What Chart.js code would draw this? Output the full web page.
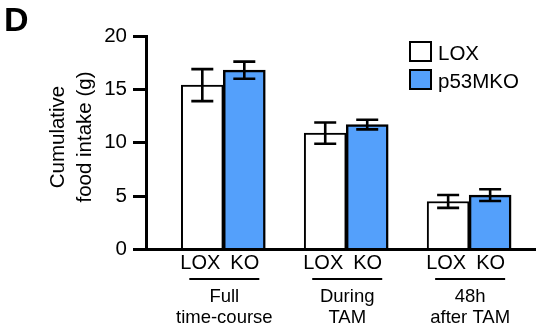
<!DOCTYPE html>
<html><head><meta charset="utf-8">
<script src="https://cdn.jsdelivr.net/npm/chart.js@4.4.1/dist/chart.umd.min.js"></script>
<style>html,body{margin:0;padding:0;background:#fff}#wrap{width:536px;height:332px}</style>
</head><body><div id="wrap"><canvas id="c" width="536" height="332"></canvas></div>
<script>
// ---- data ----
const groups = [['Full', 'time-course'], ['During', 'TAM'], ['48h', 'after TAM']];
const subLabels = ['LOX', 'KO'];
const seriesNames = ['LOX', 'p53MKO'];
const loxMean = [15.4, 10.9, 4.5];
const loxErr = [1.5, 1.0, 0.6];
const koMean = [16.8, 11.7, 5.1];
const koErr = [0.8, 0.45, 0.55];
const yTicks = [0, 5, 10, 15, 20];
const yTitle = ['Cumulative', 'food intake (g)'];
const panelLetter = 'D';

const FONT = '"Liberation Sans", Arial, Helvetica, sans-serif';
const BLUE = 'rgb(84,160,251)';

const toPts = (arr) => arr.map((v, i) => ({ x: i, y: v }));

const errorBars = {
  id: 'errorBars',
  afterDatasetsDraw(chart) {
    const ctx = chart.ctx, ys = chart.scales.y;
    ctx.save();
    ctx.strokeStyle = '#000';
    ctx.lineWidth = 2.6;
    chart.data.datasets.forEach((ds, d) => {
      const meta = chart.getDatasetMeta(d);
      meta.data.forEach((el, i) => {
        const m = ds.data[i].y, e = ds.errors[i];
        const yt = ys.getPixelForValue(m + e), yb = ys.getPixelForValue(m - e);
        const x = el.x, hw = 11;
        ctx.beginPath();
        ctx.moveTo(x, yt); ctx.lineTo(x, yb);
        ctx.moveTo(x - hw, yt); ctx.lineTo(x + hw, yt);
        ctx.moveTo(x - hw, yb); ctx.lineTo(x + hw, yb);
        ctx.stroke();
      });
    });
    ctx.restore();
  }
};

const annotations = {
  id: 'annotations',
  afterDraw(chart) {
    const ctx = chart.ctx, xs = chart.scales.x;
    ctx.save();
    ctx.fillStyle = '#000';
    // panel letter
    ctx.font = 'bold 34px ' + FONT;
    ctx.textAlign = 'left'; ctx.textBaseline = 'alphabetic';
    ctx.fillText(panelLetter, 4, 31);
    // y axis title
    ctx.save();
    ctx.translate(0, 137);
    ctx.rotate(-Math.PI / 2);
    ctx.textAlign = 'center'; ctx.textBaseline = 'middle';
    ctx.font = '20.5px ' + FONT;
    ctx.fillText(yTitle[0], 0, 58.5);
    ctx.fillText(yTitle[1], 0, 85);
    ctx.restore();
    ctx.textAlign = 'left'; ctx.textBaseline = 'alphabetic';
    // legend
    const lx = 410, rows = [42, 70];
    chart.data.datasets.forEach((ds, d) => {
      ctx.fillStyle = ds.backgroundColor;
      ctx.fillRect(lx, rows[d], 21, 19);
      ctx.strokeStyle = '#000'; ctx.lineWidth = 2;
      ctx.strokeRect(lx, rows[d], 21, 19);
      ctx.fillStyle = '#000';
      ctx.font = '20.5px ' + FONT;
      ctx.fillText(ds.label, 438, rows[d] + 17.5);
    });
    // x labels
    groups.forEach((g, i) => {
      const cx = xs.getPixelForValue(i);
      ctx.textAlign = 'center';
      ctx.font = '20px ' + FONT;
      ctx.fillText(subLabels[0], cx - 23, 268.5);
      ctx.fillText(subLabels[1], cx + 21.5, 268.5);
      ctx.strokeStyle = '#000'; ctx.lineWidth = 2;
      ctx.beginPath(); ctx.moveTo(cx - 34, 279); ctx.lineTo(cx + 36, 279); ctx.stroke();
      ctx.font = '18.5px ' + FONT;
      ctx.fillText(g[0], cx + 1, 302);
      ctx.fillText(g[1], cx + 1, 323);
    });
    ctx.restore();
  }
};

new Chart(document.getElementById('c'), {
  type: 'bar',
  data: {
    datasets: [
      { label: seriesNames[0], data: toPts(loxMean), errors: loxErr, backgroundColor: '#ffffff', borderColor: '#000', borderWidth: 2 },
      { label: seriesNames[1], data: toPts(koMean), errors: koErr, backgroundColor: BLUE, borderColor: '#000', borderWidth: 2.5 }
    ]
  },
  options: {
    responsive: false,
    animation: false,
    barThickness: 42,
    layout: { padding: { top: 36, right: 0, left: 0, bottom: 0 } },
    plugins: { legend: { display: false }, tooltip: { enabled: false } },
    scales: {
      x: {
        type: 'linear', min: -0.629, max: 2.544, offset: false,
        grid: { display: false, offset: false },
        ticks: { display: false },
        border: { display: true, color: '#000', width: 3, z: 1 },
        afterFit: (s) => { s.height = 82.5; }
      },
      y: {
        min: 0, max: 20,
        afterBuildTicks: (s) => { s.ticks = yTicks.map(v => ({ value: v })); },
        grid: { display: true, drawOnChartArea: false, drawTicks: true, tickLength: 13, tickWidth: 3, tickColor: '#000' },
        border: { display: true, color: '#000', width: 3, z: 1 },
        ticks: { color: '#000', padding: 6, font: { family: FONT, size: 20.5 } },
        title: { display: false },
        afterFit: (s) => { s.width = 146; }
      }
    }
  },
  plugins: [errorBars, annotations]
});
</script></body></html>
